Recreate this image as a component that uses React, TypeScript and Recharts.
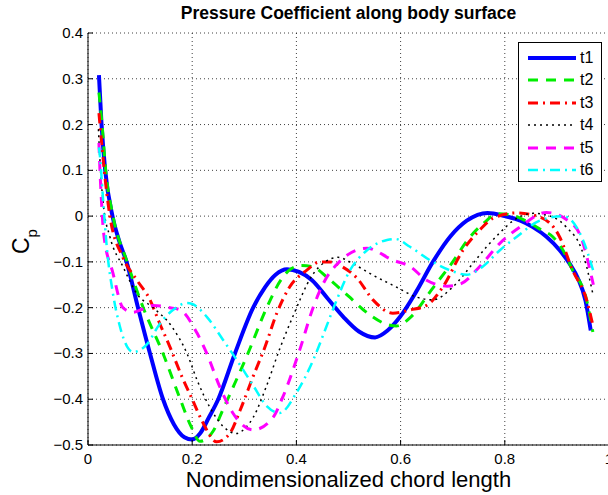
import React from 'react';
import { LineChart, Line, XAxis, YAxis, CartesianGrid } from 'recharts';

type Pt = [number, number];

const X_TICKS = [0, 0.2, 0.4, 0.6, 0.8, 1];
const Y_TICKS = [-0.5, -0.4, -0.3, -0.2, -0.1, 0, 0.1, 0.2, 0.3, 0.4];

const TITLE = 'Pressure Coefficient along body surface';
const X_LABEL = 'Nondimensionalized chord length';

const t1: Pt[] = [
  [0.021, 0.308], [0.026, 0.2], [0.033, 0.1], [0.047, 0], [0.06, -0.055], [0.074, -0.1],
  [0.096, -0.2], [0.119, -0.3], [0.144, -0.4], [0.165, -0.455], [0.185, -0.483], [0.2, -0.488],
  [0.215, -0.475], [0.232, -0.44], [0.25, -0.4], [0.282, -0.3], [0.317, -0.2], [0.34, -0.155],
  [0.36, -0.128], [0.382, -0.116], [0.405, -0.122], [0.43, -0.14], [0.46, -0.18], [0.49, -0.22],
  [0.52, -0.252], [0.551, -0.265], [0.575, -0.25], [0.599, -0.22], [0.63, -0.165], [0.662, -0.1],
  [0.695, -0.045], [0.727, -0.01], [0.767, 0.007], [0.8, 0.0], [0.83, -0.01], [0.854, -0.024],
  [0.88, -0.045], [0.905, -0.074], [0.925, -0.105], [0.94, -0.135], [0.955, -0.185], [0.965, -0.25],
];

const t2: Pt[] = [
  [0.021, 0.27], [0.027, 0.2], [0.034, 0.1], [0.048, 0], [0.075, -0.1], [0.106, -0.2],
  [0.144, -0.3], [0.177, -0.4], [0.198, -0.46], [0.215, -0.492], [0.24, -0.47], [0.26, -0.42],
  [0.28, -0.37], [0.307, -0.3], [0.343, -0.2], [0.37, -0.14], [0.39, -0.115], [0.41, -0.108],
  [0.43, -0.11], [0.46, -0.135], [0.5, -0.175], [0.54, -0.215], [0.57, -0.235], [0.592, -0.24],
  [0.62, -0.22], [0.66, -0.16], [0.7, -0.1], [0.73, -0.05], [0.76, -0.015], [0.785, 0.005],
  [0.81, 0.003], [0.84, -0.01], [0.87, -0.03], [0.892, -0.045], [0.912, -0.075], [0.93, -0.118],
  [0.957, -0.183], [0.969, -0.253],
];

const t3: Pt[] = [
  [0.021, 0.225], [0.027, 0.15], [0.035, 0.06], [0.042, 0], [0.067, -0.09], [0.094, -0.14],
  [0.119, -0.183], [0.137, -0.233], [0.157, -0.285], [0.18, -0.35], [0.2, -0.4], [0.22, -0.45],
  [0.247, -0.493], [0.272, -0.475], [0.292, -0.424], [0.317, -0.35], [0.34, -0.285], [0.362, -0.213],
  [0.387, -0.155], [0.42, -0.118], [0.445, -0.1], [0.464, -0.1], [0.49, -0.112], [0.516, -0.135],
  [0.547, -0.183], [0.585, -0.212], [0.618, -0.205], [0.65, -0.195], [0.681, -0.155], [0.72, -0.074],
  [0.752, -0.03], [0.777, -0.005], [0.823, 0.007], [0.867, -0.002], [0.905, -0.045], [0.93, -0.118],
  [0.957, -0.183], [0.969, -0.238],
];

const t4: Pt[] = [
  [0.02, 0.19], [0.024, 0.1], [0.03, 0.02], [0.042, -0.045], [0.067, -0.11], [0.094, -0.17],
  [0.125, -0.2], [0.16, -0.24], [0.19, -0.3], [0.21, -0.36], [0.235, -0.42], [0.26, -0.46],
  [0.285, -0.475], [0.3, -0.465], [0.317, -0.44], [0.343, -0.37], [0.368, -0.29], [0.393, -0.22],
  [0.43, -0.13], [0.455, -0.1], [0.48, -0.09], [0.51, -0.105], [0.547, -0.129], [0.592, -0.155],
  [0.631, -0.177], [0.662, -0.183], [0.7, -0.155], [0.739, -0.103], [0.765, -0.067], [0.79, -0.037],
  [0.816, -0.01], [0.854, 0.006], [0.892, -0.002], [0.918, -0.024], [0.95, -0.081], [0.969, -0.17],
];

const t5: Pt[] = [
  [0.021, 0.16], [0.023, 0.1], [0.026, 0.03], [0.03, -0.037], [0.048, -0.125], [0.067, -0.2],
  [0.086, -0.21], [0.105, -0.203], [0.125, -0.195], [0.157, -0.2], [0.177, -0.205], [0.209, -0.255],
  [0.228, -0.3], [0.253, -0.373], [0.278, -0.43], [0.317, -0.467], [0.355, -0.44], [0.374, -0.395],
  [0.407, -0.29], [0.432, -0.2], [0.455, -0.14], [0.478, -0.105], [0.516, -0.074], [0.535, -0.07],
  [0.585, -0.096], [0.618, -0.11], [0.65, -0.14], [0.69, -0.153], [0.715, -0.148], [0.752, -0.11],
  [0.79, -0.06], [0.829, -0.024], [0.88, 0.008], [0.919, -0.008], [0.944, -0.04], [0.97, -0.15],
];

const t6: Pt[] = [
  [0.021, 0.15], [0.023, 0.13], [0.029, 0.035], [0.036, -0.067], [0.048, -0.17], [0.061, -0.24],
  [0.075, -0.285], [0.087, -0.297], [0.113, -0.28], [0.138, -0.235], [0.163, -0.205], [0.19, -0.19],
  [0.2, -0.192], [0.228, -0.22], [0.259, -0.27], [0.286, -0.315], [0.317, -0.37], [0.343, -0.415],
  [0.368, -0.43], [0.4, -0.386], [0.432, -0.315], [0.458, -0.24], [0.475, -0.19], [0.503, -0.118],
  [0.535, -0.075], [0.574, -0.052], [0.59, -0.05], [0.618, -0.067], [0.656, -0.096], [0.694, -0.118],
  [0.727, -0.128], [0.758, -0.11], [0.79, -0.075], [0.823, -0.045], [0.867, -0.01], [0.912, 0.0],
  [0.95, -0.052], [0.97, -0.12],
];

const SERIES = [
  { name: 't1', pts: t1, color: '#0000ff', width: 4, dash: undefined as string | undefined },
  { name: 't2', pts: t2, color: '#00ee00', width: 3, dash: '10 8' },
  { name: 't3', pts: t3, color: '#ff0000', width: 3, dash: '10 5 2 5' },
  { name: 't4', pts: t4, color: '#000000', width: 1.5, dash: '2 4' },
  { name: 't5', pts: t5, color: '#ff00ff', width: 3, dash: '10 8' },
  { name: 't6', pts: t6, color: '#00ffff', width: 2.5, dash: '10 5 2 5' },
];

const FONT = '"Liberation Sans", Arial, Helvetica, sans-serif';

const fmt = (v: number) => {
  if (Math.abs(v) < 1e-9) return '0';
  if (Math.abs(v - 1) < 1e-9) return '1';
  return v.toFixed(1).replace('-', '\u2212');
};

const XTick = (props: any) => {
  const { x, y, payload } = props;
  return (
    <g>
      <line x1={x} x2={x} y1={y} y2={y - 5} stroke="#000" strokeWidth={1} />
      <text x={x} y={y + 19} textAnchor="middle" fontSize={15} fill="#000" fontFamily={FONT}>
        {fmt(payload.value)}
      </text>
    </g>
  );
};

const YTick = (props: any) => {
  const { x, y, payload } = props;
  return (
    <g>
      <line x1={x} x2={x + 5} y1={y} y2={y} stroke="#000" strokeWidth={1} />
      <text x={x - 5} y={y + 5} textAnchor="end" fontSize={15} fill="#000" fontFamily={FONT}>
        {fmt(payload.value)}
      </text>
    </g>
  );
};

const YLabel = () => (
  <text transform="translate(29,254) rotate(-90)" fontSize={23} fill="#000" fontFamily={FONT}>
    C<tspan fontSize={15} dy={8}>p</tspan>
  </text>
);

const XLabel = () => (
  <text x={348.5} y={487} textAnchor="middle" fontSize={22} fill="#000" fontFamily={FONT}>
    {X_LABEL}
  </text>
);

export default function App() {
  return (
    <div
      style={{
        position: 'absolute',
        left: 0,
        top: 0,
        width: 608,
        height: 495,
        overflow: 'hidden',
        background: '#fff',
        fontFamily: FONT,
      }}
    >
      <div
        style={{
          position: 'absolute',
          left: 88,
          width: 521,
          top: 3,
          textAlign: 'center',
          fontWeight: 'bold',
          fontSize: 17.5,
          lineHeight: '20px',
          color: '#000',
        }}
      >
        {TITLE}
      </div>
      <LineChart width={620} height={495} margin={{ top: 33, right: 11, bottom: 0, left: 0 }}>
        <CartesianGrid stroke="#000" strokeOpacity={0.75} strokeDasharray="1 3" />
        <XAxis
          type="number"
          dataKey="x"
          domain={[0, 1]}
          ticks={X_TICKS}
          allowDataOverflow
          height={50}
          tickSize={0}
          tickMargin={0}
          tickLine={false}
          axisLine={{ stroke: '#000' }}
          tick={XTick}
          interval={0}
          label={{ content: XLabel }}
        />
        <YAxis
          type="number"
          domain={[-0.5, 0.4]}
          ticks={Y_TICKS}
          allowDataOverflow
          width={88}
          tickSize={0}
          tickMargin={0}
          tickLine={false}
          axisLine={{ stroke: '#000' }}
          tick={YTick}
          interval={0}
          label={{ content: YLabel }}
        />
        {SERIES.map((s) => (
          <Line
            key={s.name}
            name={s.name}
            data={s.pts.map(([x, y]) => ({ x, y }))}
            dataKey="y"
            type="monotone"
            stroke={s.color}
            strokeWidth={s.width}
            strokeDasharray={s.dash}
            dot={false}
            activeDot={false}
            isAnimationActive={false}
          />
        ))}
      </LineChart>
      <div
        style={{
          position: 'absolute',
          left: 518,
          top: 42,
          width: 82,
          height: 138,
          border: '1px solid #000',
          background: '#fff',
        }}
      >
        {SERIES.map((s, i) => (
          <div
            key={s.name}
            style={{ position: 'absolute', left: 0, top: 4 + i * 22.4, height: 22, width: 82 }}
          >
            <svg width={56} height={22} style={{ position: 'absolute', left: 4, top: 0 }}>
              <line
                x1={5}
                x2={53}
                y1={11}
                y2={11}
                stroke={s.color}
                strokeWidth={s.width}
                strokeDasharray={s.dash}
              />
            </svg>
            <span
              style={{
                position: 'absolute',
                left: 61,
                top: 2,
                fontSize: 16,
                lineHeight: '18px',
                color: '#000',
              }}
            >
              {s.name}
            </span>
          </div>
        ))}
      </div>
    </div>
  );
}
